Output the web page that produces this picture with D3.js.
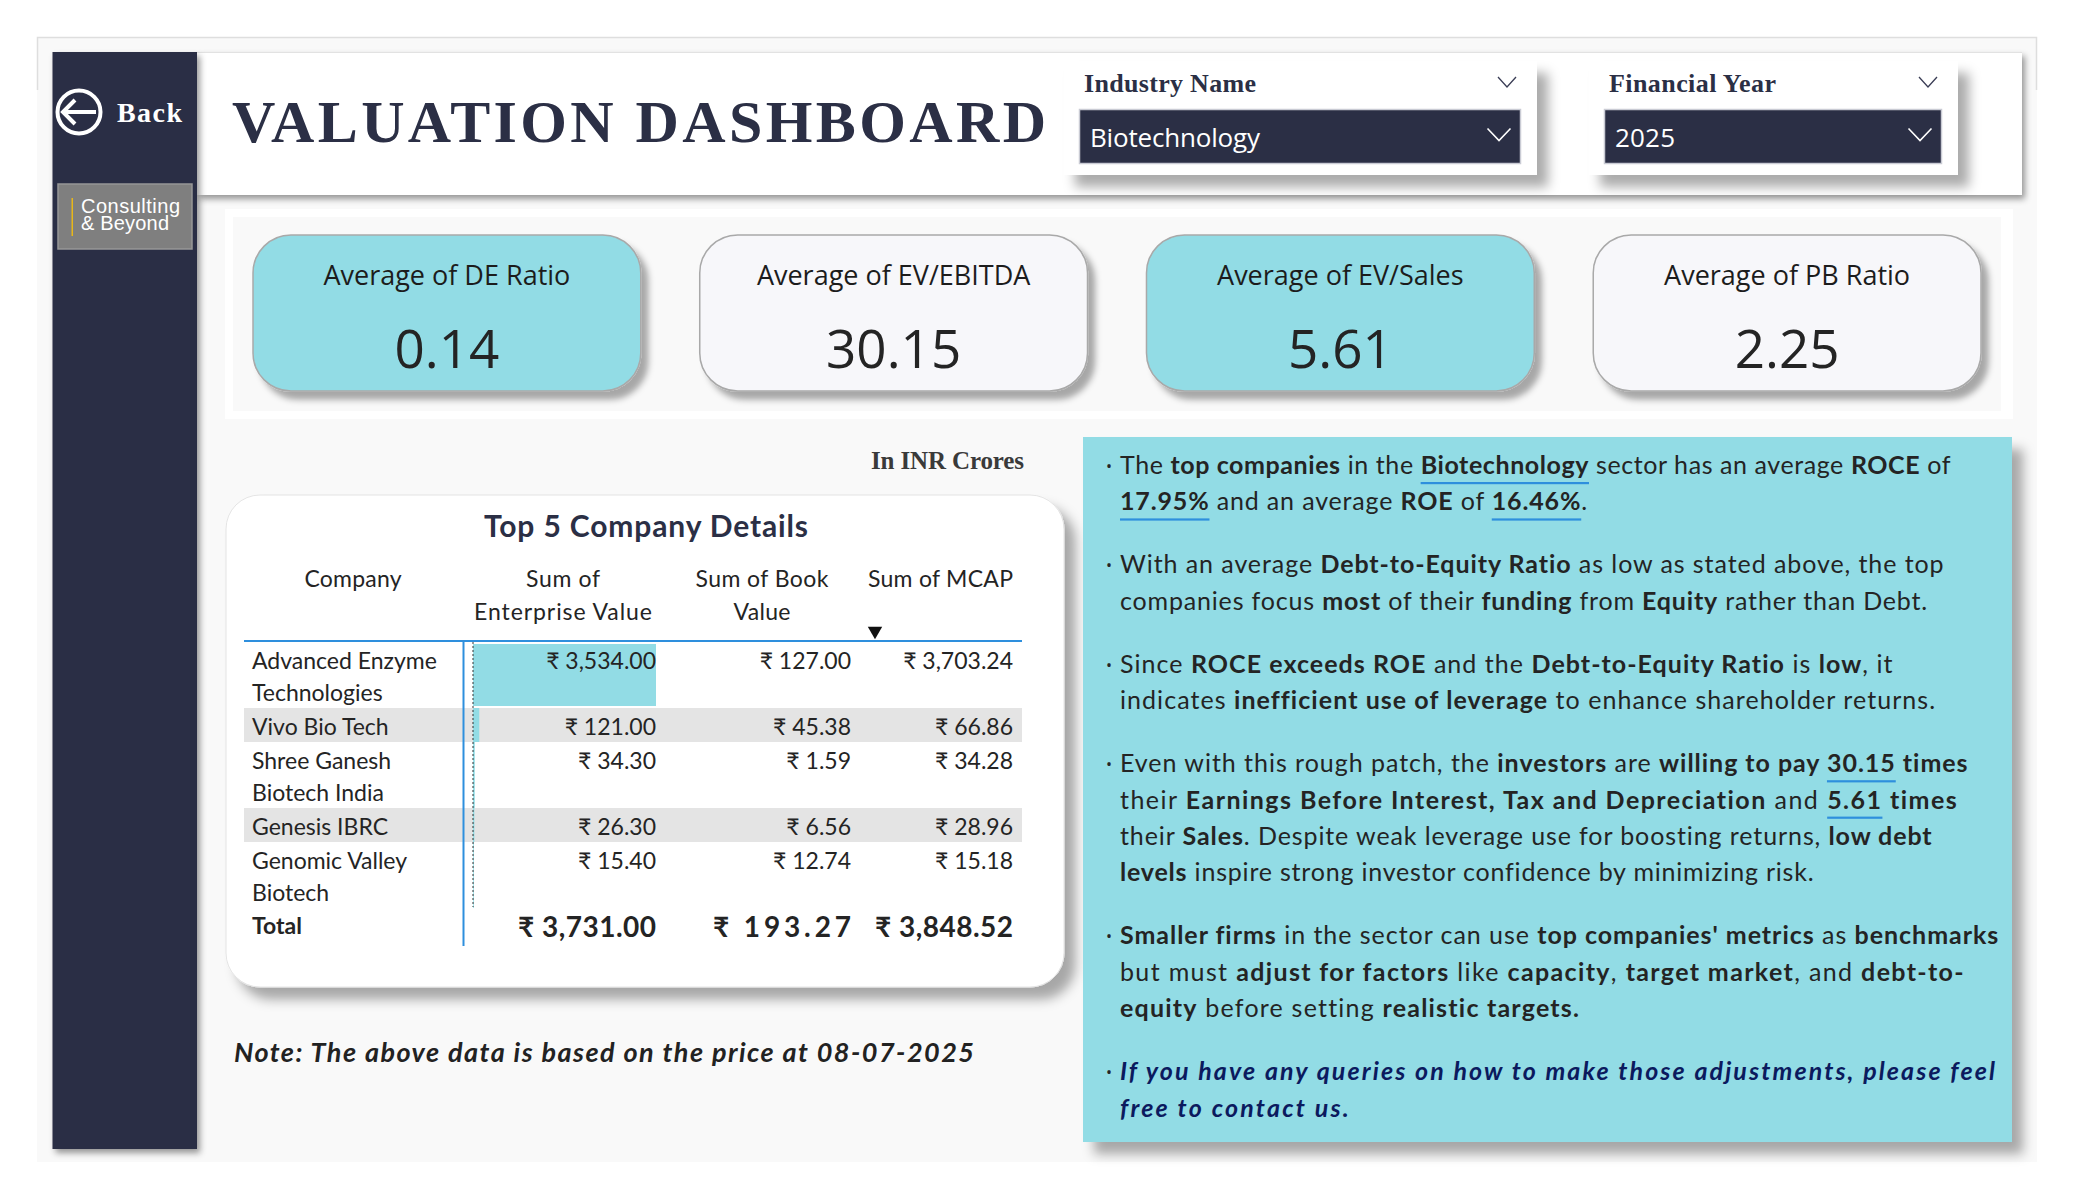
<!DOCTYPE html>
<html>
<head>
<meta charset="utf-8">
<title>Valuation Dashboard</title>
<script src="https://cdn.jsdelivr.net/npm/d3@7"></script>
<style>
  body { margin: 0; background: #fff; }
  text { white-space: pre; }
</style>
</head>
<body>
<div class="graph"></div>
<script>
const width = 2075;
const height = 1200;

// slicers
const industry = "Biotechnology";
const year = "2025";

// kpi cards
const kpiLabels = ["Average of DE Ratio", "Average of EV/EBITDA", "Average of EV/Sales", "Average of PB Ratio"];
const kpiValues = [0.14, 30.15, 5.61, 2.25];

// table
const companies = [
  ["Advanced Enzyme", "Technologies"],
  ["Vivo Bio Tech"],
  ["Shree Ganesh", "Biotech India"],
  ["Genesis IBRC"],
  ["Genomic Valley", "Biotech"]
];
const enterpriseValue = [3534.00, 121.00, 34.30, 26.30, 15.40];
const bookValue = [127.00, 45.38, 1.59, 6.56, 12.74];
const mcap = [3703.24, 66.86, 34.28, 28.96, 15.18];
const colHeaders = [["Company"], ["Sum of", "Enterprise Value"], ["Sum of Book", "Value"], ["Sum of MCAP"]];

// commentary: each paragraph is lines, each line is runs of [text, style]
// style: "" normal, "b" bold, "u" bold + underlined
const commentary = [
  [
    [["The ", ""], ["top companies", "b"], [" in the ", ""], ["Biotechnology", "u"], [" sector has an average ", ""], ["ROCE", "b"], [" of", ""]],
    [["17.95%", "u"], [" and an average ", ""], ["ROE", "b"], [" of ", ""], ["16.46%", "u"], [".", ""]]
  ],
  [
    [["With an average ", ""], ["Debt-to-Equity Ratio", "b"], [" as low as stated above, the top", ""]],
    [["companies focus ", ""], ["most", "b"], [" of their ", ""], ["funding", "b"], [" from ", ""], ["Equity", "b"], [" rather than Debt.", ""]]
  ],
  [
    [["Since ", ""], ["ROCE exceeds ROE", "b"], [" and the ", ""], ["Debt-to-Equity Ratio", "b"], [" is ", ""], ["low", "b"], [", it", ""]],
    [["indicates ", ""], ["inefficient use of leverage", "b"], [" to enhance shareholder returns.", ""]]
  ],
  [
    [["Even with this rough patch, the ", ""], ["investors", "b"], [" are ", ""], ["willing to pay ", "b"], ["30.15", "u"], [" times", "b"]],
    [["their ", ""], ["Earnings Before Interest, Tax and Depreciation", "b"], [" and ", ""], ["5.61", "u"], [" times", "b"]],
    [["their ", ""], ["Sales", "b"], [". Despite weak leverage use for boosting returns, ", ""], ["low debt", "b"]],
    [["levels", "b"], [" inspire strong investor confidence by minimizing risk.", ""]]
  ],
  [
    [["Smaller firms", "b"], [" in the sector can use ", ""], ["top companies' metrics", "b"], [" as ", ""], ["benchmarks", "b"]],
    [["but must ", ""], ["adjust for factors", "b"], [" like ", ""], ["capacity", "b"], [", ", ""], ["target market", "b"], [", and ", ""], ["debt-to-", "b"]],
    [["equity", "b"], [" before setting ", ""], ["realistic targets.", "b"]]
  ],
  [
    [["If you have any queries on how to make those adjustments, please feel", "i"]],
    [["free to contact us.", "i"]]
  ]
];
// right end of each commentary line
const lineRight = [1951, 1588, 1945, 1928, 1894, 1935, 1969, 1959, 1933, 1814, 1999, 1965, 1580, 1997, 1351];

const navy = "#2b2f45";
const teal = "#92dce5";
const blue = "#2e8fdd";
const ink = "#242424";
const sans = "'Open Sans', sans-serif";
const hand = "Lato, sans-serif";
const serif = "'Liberation Serif', serif";

const svg = d3.select(".graph").append("svg")
  .attr("width", width)
  .attr("height", height)
  .style("display", "block");

const defs = svg.append("defs");
function shadow(id, dx, dy, blur, op) {
  const f = defs.append("filter").attr("id", id)
    .attr("x", "-10%").attr("y", "-10%").attr("width", "125%").attr("height", "130%");
  f.append("feDropShadow")
    .attr("dx", dx).attr("dy", dy).attr("stdDeviation", blur)
    .attr("flood-color", "#000").attr("flood-opacity", op);
}
shadow("sh-big", 11, 12, 6, 0.33);
shadow("sh-card", 7, 8, 3, 0.33);
shadow("sh-bar", 3, 4, 3, 0.4);

function box(x, y, w, h, fill, extra) {
  const r = svg.append("rect").attr("x", x).attr("y", y).attr("width", w).attr("height", h).attr("fill", fill);
  if (extra) Object.keys(extra).forEach(k => r.attr(k, extra[k]));
  return r;
}
function label(parent, str, x, y, size, family, opts) {
  opts = opts || {};
  const t = parent.append("text")
    .attr("x", x).attr("y", y)
    .attr("font-size", size)
    .attr("font-family", family)
    .attr("font-weight", opts.weight || 400)
    .attr("font-style", opts.style || "normal")
    .attr("text-anchor", opts.anchor || "start")
    .attr("fill", opts.fill || ink)
    .text(str);
  if (opts.fit) t.attr("textLength", opts.fit).attr("lengthAdjust", "spacing");
  return t;
}
function chevron(cx, cy, w, h, color, sw) {
  svg.append("path")
    .attr("d", d3.line()([[cx - w / 2, cy - h / 2], [cx, cy + h / 2], [cx + w / 2, cy - h / 2]]))
    .attr("fill", "none").attr("stroke", color).attr("stroke-width", sw);
}

// page frame
box(37, 37, 2000, 1125, "#f9f9f9");
svg.append("path").attr("d", "M37.5,90V37.5H2036.5V90").attr("fill", "none").attr("stroke", "#dedede").attr("stroke-width", 1.5);

// header band
box(197, 52, 1825, 143, "#fff", { filter: "url(#sh-bar)" });
svg.append("path").attr("d", "M197,52.5H2022").attr("stroke", "#e2e2e2").attr("stroke-width", 1);

// side bar
box(52.5, 52, 144.5, 1097, navy, { filter: "url(#sh-bar)" });
svg.append("circle").attr("cx", 79).attr("cy", 112).attr("r", 21.5)
  .attr("fill", "none").attr("stroke", "#fff").attr("stroke-width", 4);
svg.append("path").attr("d", "M96,112H64M75,100L63,112L75,124")
  .attr("fill", "none").attr("stroke", "#fff").attr("stroke-width", 4);
label(svg, "Back", 117, 122, 28, serif, { weight: 700, fill: "#fff", fit: 65 });
box(58, 184, 134, 65, "#7f7f7f", { stroke: "#979797", "stroke-width": 1.5 });
box(71.5, 198, 1.5, 38, "#e8b71a");
label(svg, "Consulting", 81, 213, 20, "'Liberation Sans', sans-serif", { fill: "#fff", fit: 99 });
label(svg, "& Beyond", 81, 230, 20, "'Liberation Sans', sans-serif", { fill: "#fff", fit: 88 });

// title
label(svg, "VALUATION DASHBOARD", 232, 142, 60, serif, { weight: 700, fill: navy, fit: 814 });

// slicers
function slicer(x, w, title, titleW, value, valueW) {
  box(x, 61, w, 114, "#fff", { filter: "url(#sh-big)" });
  label(svg, title, x + 20, 92, 26, serif, { weight: 700, fill: navy, fit: titleW });
  chevron(x + w - 30, 82, 18, 10, "#3a3d55", 1.3);
  box(x + 15.5, 109.5, w - 32, 54, navy, { stroke: "#c9cbd4", "stroke-width": 1.5 });
  label(svg, value, x + 26, 147, 26, sans, { fill: "#fff", fit: valueW });
  chevron(x + w - 38, 134.5, 23, 12, "#fff", 1.6);
}
slicer(1064, 473, "Industry Name", 172, industry, 170);
slicer(1589, 369, "Financial Year", 167, year, 60);

// kpi strip
box(225, 209, 1788, 210, "#fff");
box(233, 217, 1768, 194, "#f9f9f9");
const kpiX = d3.scaleBand().domain(d3.range(kpiLabels.length)).range([253, 1981]).paddingInner(0.132).paddingOuter(0);
kpiLabels.forEach((name, i) => {
  const x = kpiX(i), w = kpiX.bandwidth();
  svg.append("rect").attr("x", x).attr("y", 235).attr("width", w).attr("height", 156)
    .attr("rx", 38).attr("ry", 38)
    .attr("fill", i % 2 === 0 ? teal : "#f7f7fa")
    .attr("stroke", "#a9a9a9").attr("stroke-width", 1.5)
    .attr("filter", "url(#sh-card)");
  label(svg, name, x + w / 2, 285, 27, sans, { anchor: "middle", fill: "#1c1c1c" });
  label(svg, d3.format(".2f")(kpiValues[i]), x + w / 2, 368, 53, sans, { anchor: "middle" });
});

// table card
label(svg, "In INR Crores", 871, 469, 25, serif, { weight: 700, fill: "#3a3a3a", fit: 153 });
svg.append("rect").attr("x", 226).attr("y", 495).attr("width", 838).attr("height", 492)
  .attr("rx", 34).attr("fill", "#fff").attr("stroke", "#e4e4e4")
  .attr("filter", "url(#sh-big)");
label(svg, "Top 5 Company Details", 646, 537, 30, hand, { anchor: "middle", weight: 700, fill: navy, fit: 324 });

const colCenter = [353, 563, 762, 940.5];
const colRight = [null, 656, 851, 1013];
const colFit = [[97], [74, 178], [133, 57], [145]];
colHeaders.forEach((lines, c) => {
  lines.forEach((s, l) => label(svg, s, colCenter[c], 587 + l * 32.5, 23, hand, { anchor: "middle", fit: colFit[c][l] }));
});
svg.append("path").attr("d", d3.symbol(d3.symbolTriangle, 90)()).attr("transform", "translate(875,631) rotate(180)").attr("fill", "#111");

// rows stacked by number of name lines
const rowH = companies.map(lines => 34 + (lines.length - 1) * 32);
const rowTop = d3.cumsum([642].concat(rowH));
const barX = d3.scaleLinear().domain([0, d3.max(enterpriseValue)]).range([0, 183]);
const rupee = v => "₹ " + d3.format(",.2f")(v);

companies.forEach((lines, i) => {
  if (i % 2 === 1) box(244, rowTop[i], 778, rowH[i], "#e4e4e4");
});
companies.forEach((lines, i) => {
  const inset = i === 0 ? 2 : 0;
  box(473, rowTop[i] + inset, barX(enterpriseValue[i]), rowH[i] - 2 * inset, teal);
});
companies.forEach((lines, i) => {
  const base = rowTop[i] + 27;
  lines.forEach((s, l) => label(svg, s, 252, base + l * 32, 23, hand));
  [enterpriseValue, bookValue, mcap].forEach((col, c) => {
    label(svg, rupee(col[i]), colRight[c + 1], base, 23, hand, { anchor: "end" });
  });
});
label(svg, "Total", 252, 934, 23, hand, { weight: 700 });
[enterpriseValue, bookValue, mcap].forEach((col, c) => {
  label(svg, rupee(d3.sum(col)), colRight[c + 1], 937, 28, hand, { anchor: "end", weight: 700, fit: [138, 0, 0][c] || 138 });
});
svg.append("path").attr("d", "M244,641H1022").attr("stroke", blue).attr("stroke-width", 2);
svg.append("path").attr("d", "M463.5,641V946").attr("stroke", blue).attr("stroke-width", 2);
svg.append("path").attr("d", "M473,642V907").attr("stroke", "#333").attr("stroke-width", 1).attr("stroke-dasharray", "2 2");

label(svg, "Note: The above data is based on the price at 08-07-2025", 234, 1062, 27, hand, { style: "italic", weight: 700, fill: "#222", fit: 740 });

// commentary panel
box(1083, 437, 929, 705, teal, { filter: "url(#sh-big)" });
const lineGap = 36.4, paraGap = 63;
let baseline = 474, lineNo = 0;
const panel = svg.append("g");
commentary.forEach(para => {
  label(panel, "•", 1106, baseline - 2, 16, sans, { fill: ink });
  para.forEach((runs, l) => {
    const row = panel.append("g");
    const bits = runs.map(([str, st]) => label(row, str, 0, baseline, 25, hand, {
      weight: st ? 700 : 400,
      style: st === "i" ? "italic" : "normal",
      fill: st === "i" ? "#0b1a5e" : ink
    }));
    const chars = d3.sum(runs, r => r[0].length);
    const natural = d3.sum(bits, b => b.node().getComputedTextLength());
    const spacing = (lineRight[lineNo] - 1120 - natural) / chars;
    let x = 1120;
    bits.forEach((b, k) => {
      b.attr("letter-spacing", spacing).attr("x", x);
      const w = b.node().getComputedTextLength();
      if (runs[k][1] === "u") box(x, baseline + 8, w, 2.2, blue);
      x += w;
    });
    baseline += lineGap;
    lineNo += 1;
  });
  baseline += paraGap - lineGap;
});
</script>
</body>
</html>
